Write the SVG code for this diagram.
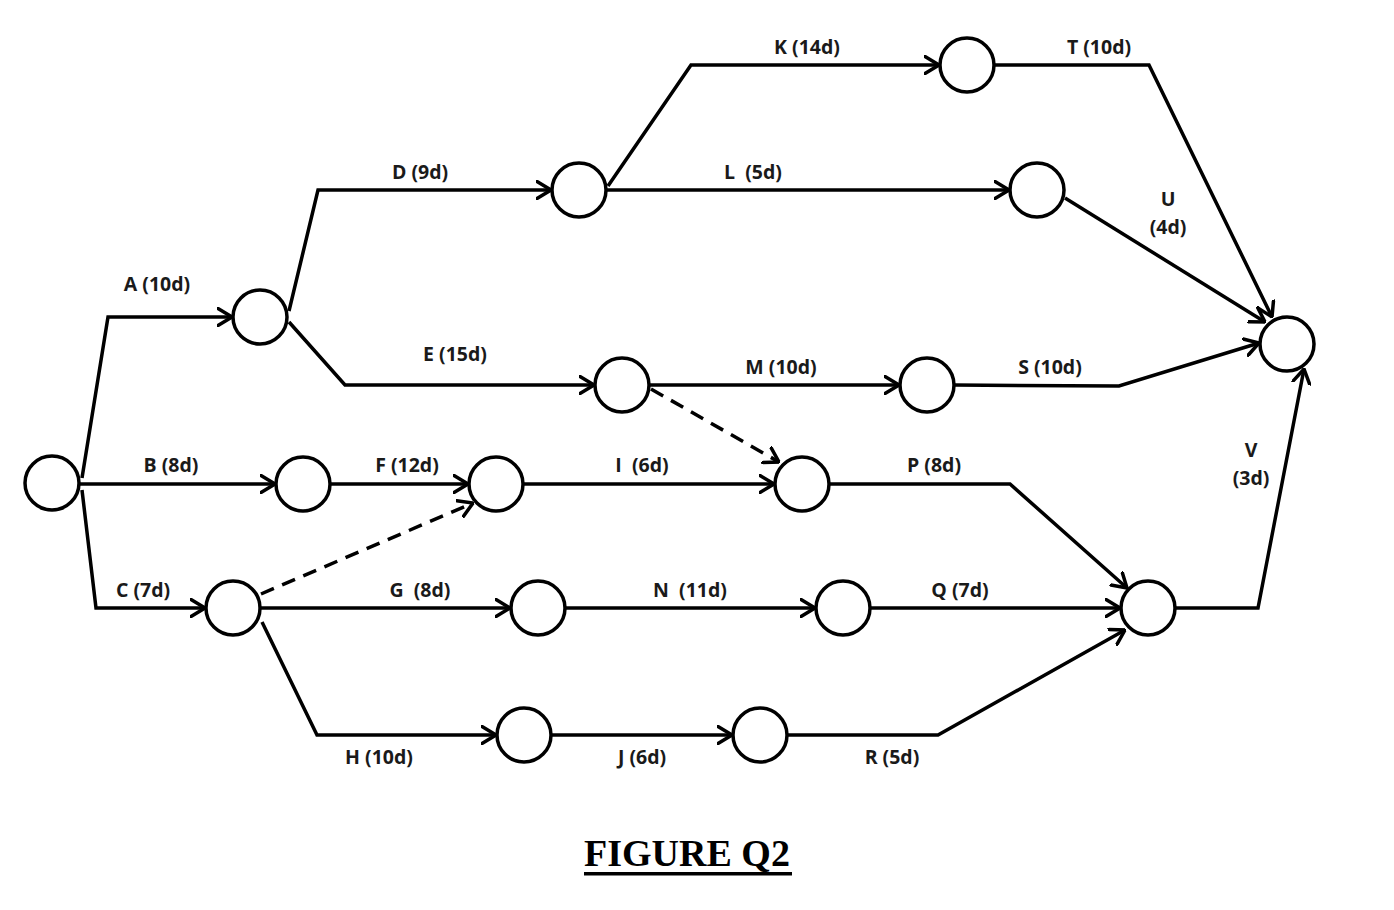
<svg xmlns="http://www.w3.org/2000/svg" width="1394" height="910" viewBox="0 0 1394 910">
<style>
.n{fill:#fff;stroke:#000;stroke-width:3.5}
.e{fill:none;stroke:#000;stroke-width:3.5;stroke-linejoin:miter;marker-end:url(#ah)}
.d{stroke-dasharray:14 9}
.l{font-family:"Open Sans","Liberation Sans",sans-serif;font-weight:bold;font-size:19.5px;fill:#1a1a1a;text-anchor:middle;white-space:pre}
.t{font-family:"Liberation Serif","Times New Roman",serif;font-weight:bold;font-size:38px;fill:#000;text-anchor:middle}
</style>
<defs>
<marker id="ah" viewBox="0 0 16 20" refX="15" refY="10" markerWidth="16" markerHeight="20" markerUnits="userSpaceOnUse" orient="auto">
<path d="M1,1.5 L15,10 L1,18.5" fill="none" stroke="#000" stroke-width="3.5" stroke-linecap="round" stroke-linejoin="miter"/>
</marker>
</defs>
<rect width="1394" height="910" fill="#fff"/>
<g id="connectors">
<path class="e" d="M82,478 L108,317 L232,317"/>
<path class="e" d="M80,484 L275,484"/>
<path class="e" d="M82,490 L96,608 L205,608"/>
<path class="e" d="M289,311 L318,190 L551,190"/>
<path class="e" d="M289,322 L345,385 L594,385"/>
<path class="e" d="M608,186 L691,65 L939,65"/>
<path class="e" d="M606,190 L1009,190"/>
<path class="e" d="M994,65 L1149,65 L1272,317"/>
<path class="e" d="M1065,198 L1265,322"/>
<path class="e" d="M649,385 L899,385"/>
<path class="e" d="M954,385 L1119,386 L1259,343"/>
<path class="e d" d="M651,389 L779,462"/>
<path class="e" d="M330,484 L468,484"/>
<path class="e d" d="M261,594 L473,503"/>
<path class="e" d="M523,484 L774,484"/>
<path class="e" d="M829,484 L1010,484 L1127,588"/>
<path class="e" d="M260,608 L510,608"/>
<path class="e" d="M565,608 L815,608"/>
<path class="e" d="M870,608 L1120,608"/>
<path class="e" d="M262,622 L317,735 L496,735"/>
<path class="e" d="M551,735 L732,735"/>
<path class="e" d="M787,735 L938,735 L1125,630"/>
<path class="e" d="M1175,608 L1258,608 L1304,369"/>
</g>
<g id="node-1"><circle class="n" cx="52" cy="483" r="27"/></g>
<g id="node-2"><circle class="n" cx="260" cy="317" r="27"/></g>
<g id="node-3"><circle class="n" cx="303" cy="484" r="27"/></g>
<g id="node-4"><circle class="n" cx="233" cy="608" r="27"/></g>
<g id="node-5"><circle class="n" cx="579" cy="190" r="27"/></g>
<g id="node-6"><circle class="n" cx="967" cy="65" r="27"/></g>
<g id="node-7"><circle class="n" cx="1037" cy="190" r="27"/></g>
<g id="node-8"><circle class="n" cx="1287" cy="344" r="27"/></g>
<g id="node-9"><circle class="n" cx="622" cy="385" r="27"/></g>
<g id="node-10"><circle class="n" cx="927" cy="385" r="27"/></g>
<g id="node-11"><circle class="n" cx="496" cy="484" r="27"/></g>
<g id="node-12"><circle class="n" cx="802" cy="484" r="27"/></g>
<g id="node-13"><circle class="n" cx="538" cy="608" r="27"/></g>
<g id="node-14"><circle class="n" cx="843" cy="608" r="27"/></g>
<g id="node-15"><circle class="n" cx="1148" cy="608" r="27"/></g>
<g id="node-16"><circle class="n" cx="524" cy="735" r="27"/></g>
<g id="node-17"><circle class="n" cx="760" cy="735" r="27"/></g>
<g id="labels">
<text class="l" x="157" y="291">A (10d)</text>
<text class="l" x="420" y="179">D (9d)</text>
<text class="l" x="807" y="54">K (14d)</text>
<text class="l" x="1099" y="54">T (10d)</text>
<text class="l" x="753" y="179">L  (5d)</text>
<text class="l" x="1168" y="206">U</text>
<text class="l" x="1168" y="234">(4d)</text>
<text class="l" x="455" y="361">E (15d)</text>
<text class="l" x="781" y="374">M (10d)</text>
<text class="l" x="1050" y="374">S (10d)</text>
<text class="l" x="171" y="472">B (8d)</text>
<text class="l" x="407" y="472">F (12d)</text>
<text class="l" x="642" y="472">I  (6d)</text>
<text class="l" x="934" y="472">P (8d)</text>
<text class="l" x="1251" y="457">V</text>
<text class="l" x="1251" y="485">(3d)</text>
<text class="l" x="143" y="597">C (7d)</text>
<text class="l" x="420" y="597">G  (8d)</text>
<text class="l" x="690" y="597">N  (11d)</text>
<text class="l" x="960" y="597">Q (7d)</text>
<text class="l" x="379" y="764">H (10d)</text>
<text class="l" x="642" y="764">J (6d)</text>
<text class="l" x="892" y="764">R (5d)</text>
</g>
<g id="title">
<text class="t" x="687" y="866">FIGURE Q2</text>
<rect x="584" y="872" width="208" height="3.5" fill="#000"/>
</g>
</svg>
